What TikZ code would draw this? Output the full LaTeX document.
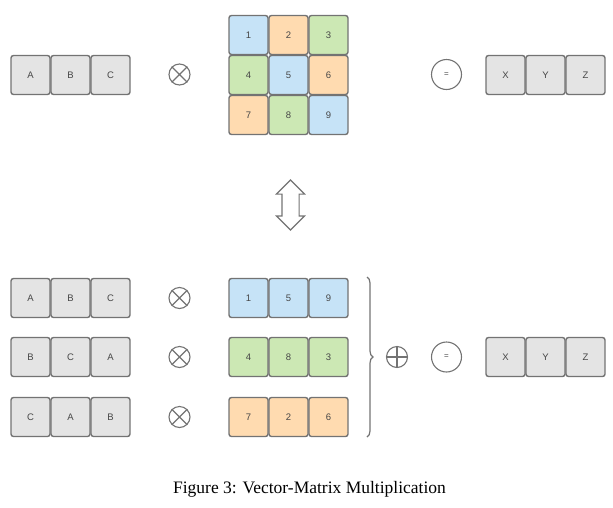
\documentclass[tikz,border=0pt]{standalone}
\usepackage{fontspec}
\setmainfont{Liberation Serif}
\newfontfamily\cellfont{Liberation Sans}
\usepackage{tikz}
\usetikzlibrary{shapes,arrows,positioning,calc,decorations.pathreplacing}

\definecolor{cellblue}{RGB}{198,227,247}
\definecolor{cellorange}{RGB}{255,219,176}
\definecolor{cellgreen}{RGB}{204,232,180}
\definecolor{cellgray}{RGB}{228,228,228}
\definecolor{lineGray}{RGB}{115,115,115}
\definecolor{labelGray}{RGB}{70,70,70}

\tikzset{
    cell/.style={draw=lineGray, line width=1.4pt, rounded corners=2.5pt, minimum size=39pt, inner sep=0pt, font=\cellfont\fontsize{9.5}{9.5}\selectfont, text=labelGray},
    opcircle/.style={circle, draw=lineGray, line width=1.1pt, minimum size=21pt, inner sep=0pt},
    eqcircle/.style={circle, draw=lineGray, line width=1.1pt, minimum size=30pt, inner sep=0pt, font=\cellfont\fontsize{8}{8}\selectfont, text=labelGray}
}

\begin{document}
\begin{tikzpicture}[x=1pt,y=-1pt]
    \useasboundingbox (0,0) rectangle (613,507);

    % top: vector times matrix
    \foreach \x/\lab in {30.5/A,70.5/B,110.5/C}
        \node[cell, fill=cellgray] (v\lab) at (\x,75) {\lab};
    \node[opcircle] (times0) at (179.5,74.5) {};
    \draw[lineGray, line width=1.1pt] (times0.north west) -- (times0.south east) (times0.north east) -- (times0.south west);

    \foreach \x/\y/\lab/\col in {248.5/35/1/cellblue, 288.5/35/2/cellorange, 328.5/35/3/cellgreen,
                                 248.5/75/4/cellgreen, 288.5/75/5/cellblue, 328.5/75/6/cellorange,
                                 248.5/115/7/cellorange, 288.5/115/8/cellgreen, 328.5/115/9/cellblue}
        \node[cell, fill=\col] (m\lab) at (\x,\y) {\lab};

    \node[eqcircle] (eq0) at (446.5,74.5) {=};
    \foreach \x/\lab in {505.5/X,545.5/Y,585.5/Z}
        \node[cell, fill=cellgray] (r\lab) at (\x,75) {\lab};

    % equivalence
    \node[double arrow, draw=lineGray, line width=1.1pt, rotate=90, minimum height=50pt, minimum width=27pt, inner sep=8pt, double arrow head extend=5.5pt] (equiv) at (290.5,205) {};

    % bottom: one row per diagonal
    \foreach \row/\y/\a/\b/\c/\p/\q/\r/\col in {1/298/A/B/C/1/5/9/cellblue, 2/357/B/C/A/4/8/3/cellgreen, 3/417/C/A/B/7/2/6/cellorange} {
        \node[cell, fill=cellgray] (s\row a) at (30.5,\y) {\a};
        \node[cell, fill=cellgray] (s\row b) at (70.5,\y) {\b};
        \node[cell, fill=cellgray] (s\row c) at (110.5,\y) {\c};
        \node[opcircle] (times\row) at (179.5,\y) {};
        \draw[lineGray, line width=1.1pt] (times\row.north west) -- (times\row.south east) (times\row.north east) -- (times\row.south west);
        \node[cell, fill=\col] (d\row a) at (248.5,\y) {\p};
        \node[cell, fill=\col] (d\row b) at (288.5,\y) {\q};
        \node[cell, fill=\col] (d\row c) at (328.5,\y) {\r};
    }

    \coordinate (bracetop) at (367,277);
    \coordinate (bracebot) at (367,437);
    \draw[lineGray, line width=1.2pt, decorate, decoration={brace, amplitude=6pt}] (bracetop) -- (bracebot);

    \node[opcircle] (plus) at (397,357) {};
    \draw[lineGray, line width=1.1pt] (plus.north) -- (plus.south) (plus.west) -- (plus.east);

    \node[eqcircle] (eq1) at (446.5,357) {=};
    \foreach \x/\lab in {505.5/X,545.5/Y,585.5/Z}
        \node[cell, fill=cellgray] (b\lab) at (\x,357) {\lab};

    \node[font=\fontsize{17.5}{20}\selectfont] (caption) at (309.5,489) {Figure 3: Vector-Matrix Multiplication};
\end{tikzpicture}
\end{document}
